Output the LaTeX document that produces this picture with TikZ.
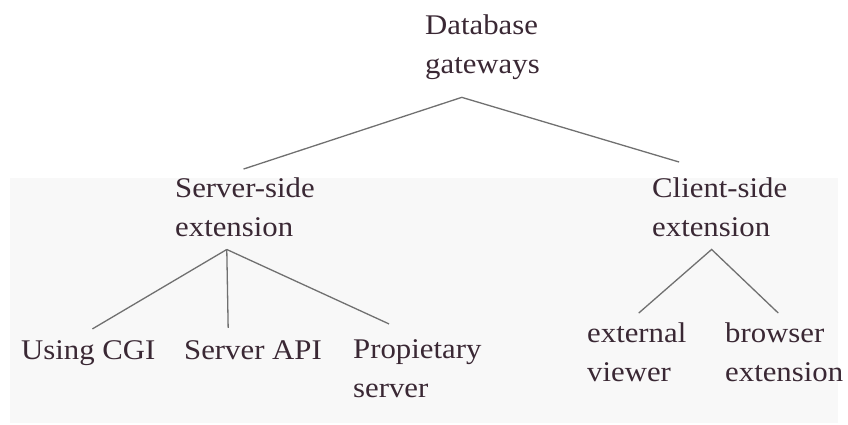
\documentclass[tikz,border=0pt]{standalone}
\usepackage{fontspec}
\setmainfont{Liberation Serif}[FakeStretch=1.08]
\usetikzlibrary{positioning,calc}

\definecolor{inkc}{RGB}{58,40,52}
\definecolor{linec}{RGB}{112,112,112}
\definecolor{paperc}{RGB}{248,248,248}

\tikzset{
  lbl/.style={inner sep=0pt, align=left, anchor=base west, text=inkc,
              font=\fontsize{28.5}{39}\selectfont},
  twig/.style={draw=linec, line width=1.3pt}
}

\begin{document}
\begin{tikzpicture}[x=1pt,y=-1pt]
    \useasboundingbox (0,0) rectangle (848,425);
    \path[fill=paperc] (10,178) rectangle (838,423);

    \node[lbl] (root) at (425,74) {Database\\gateways};

    %%level one
    \node[lbl] (srv) at (175,236) {Server-side\\extension};
    \node[lbl] (cli) at (652,236) {Client-side\\extension};

    %%level two
    \node[lbl] (cgi) at (21,359) {Using CGI};
    \node[lbl] (api) at (184,359) {Server API};
    \node[lbl] (prop) at (353,397) {Propietary\\server};
    \node[lbl] (ext) at (587,381) {external\\viewer};
    \node[lbl] (brw) at (725,381) {browser\\extension};

    \coordinate (rj) at ($(root.south west)!.32!(root.south east)+(0,17)$);
    \coordinate (sj) at ($(srv.south west)!.37!(srv.south east)+(0,13)$);
    \coordinate (cj) at ($(cli.south west)!.44!(cli.south east)+(0,13)$);

    \draw[twig] ($(srv.north west)!.49!(srv.north east)+(0,-8)$) -- (rj)
                -- ($(cli.north west)!.2!(cli.north east)+(0,-15)$);
    \draw[twig] ($(cgi.north west)!.53!(cgi.north east)+(0,-11)$) -- (sj);
    \draw[twig] (sj) -- ($(api.north west)!.32!(api.north east)+(0,-12)$);
    \draw[twig] (sj) -- ($(prop.north west)!.28!(prop.north east)+(0,-15)$);
    \draw[twig] ($(ext.north west)!.52!(ext.north east)+(0,-9)$) -- (cj)
                -- ($(brw.north west)!.45!(brw.north east)+(0,-9)$);
\end{tikzpicture}
\end{document}
